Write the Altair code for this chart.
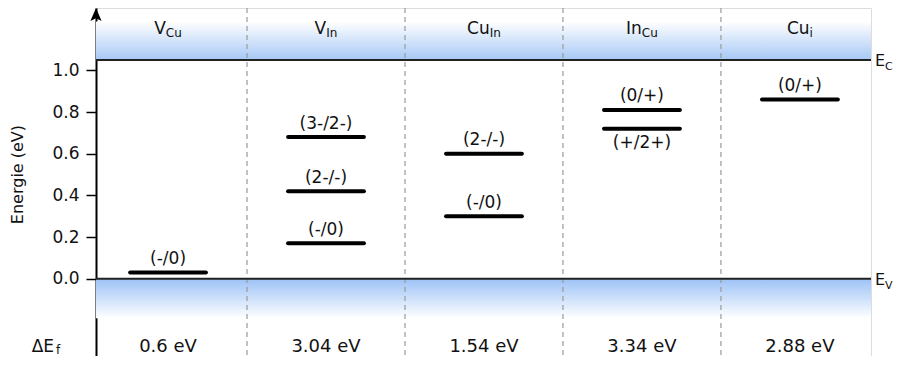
import altair as alt
import pandas as pd

# ---------------- data ----------------
defect_main = ["V", "V", "Cu", "In", "Cu"]          # defect symbol
defect_sub = ["Cu", "In", "In", "Cu", "i"]          # subscript (site)
formation_energy = [0.6, 3.04, 1.54, 3.34, 2.88]    # ΔE_f in eV

level_column = [0, 1, 1, 1, 2, 2, 3, 3, 4]
level_energy = [0.03, 0.68, 0.42, 0.17, 0.60, 0.30, 0.81, 0.72, 0.86]
level_label = ["(-/0)", "(3-/2-)", "(2-/-)", "(-/0)", "(2-/-)", "(-/0)",
               "(0/+)", "(+/2+)", "(0/+)"]
level_label_side = ["above", "above", "above", "above", "above", "above",
                    "above", "below", "above"]

E_C = 1.05   # conduction band edge (eV)
E_V = 0.0    # valence band edge (eV)
tick_values = [0.0, 0.2, 0.4, 0.6, 0.8, 1.0]

# ---------------- layout / styling ----------------
FONT = "DejaVu Sans"
X_MIN, X_MAX = -0.456, 4.45
Y_MIN, Y_MAX = -0.3711, 1.2996
PX_PER_COL = 158.0
W = int(round((X_MAX - X_MIN) * PX_PER_COL))
H = 348
HALF = 0.24
BAND_TOP = 1.235
BAND_BOTTOM = -0.19
HEADER_Y = 1.177
ROW_Y = -0.354
ARROW_Y = 1.266
BLUE = "#a6c8f5"

# approximate DejaVu Sans advance widths (em) for centring split labels
CW = {"V": .684, "C": .698, "u": .634, "I": .295, "n": .634, "i": .278,
      "E": .632, "Δ": .684, "f": .352}


def tw(s, size):
    return sum(CW.get(c, .6) for c in s) * size


MAIN_SIZE, SUB_SIZE = 17, 12

xs = alt.Scale(domain=[X_MIN, X_MAX], nice=False, zero=False)
ys = alt.Scale(domain=[Y_MIN, Y_MAX], nice=False, zero=False)
yaxis = alt.Axis(values=tick_values, format=".1f", title=None, grid=False,
                 labelFont=FONT, labelFontSize=17, labelColor="#111",
                 labelPadding=7, tickSize=10, tickWidth=1.5, tickColor="black",
                 domainColor="black", domainWidth=2)


def X(f):
    return alt.X(f, type="quantitative", scale=xs, axis=None)


def X2(f):
    return alt.X2(f)


def Y(f):
    return alt.Y(f, type="quantitative", scale=ys, axis=yaxis)


cols = list(range(len(defect_main)))

# bands
top_band = pd.DataFrame({"x": [X_MIN], "x2": [X_MAX], "y": [E_C], "y2": [BAND_TOP]})
bot_band = pd.DataFrame({"x": [X_MIN], "x2": [X_MAX], "y": [BAND_BOTTOM], "y2": [E_V]})

grad_top = alt.Gradient(gradient="linear",
                        stops=[alt.GradientStop(color="white", offset=0),
                               alt.GradientStop(color=BLUE, offset=1)],
                        x1=0, x2=0, y1=0, y2=1)
grad_bot = alt.Gradient(gradient="linear",
                        stops=[alt.GradientStop(color="#9cc2f6", offset=0),
                               alt.GradientStop(color="white", offset=1)],
                        x1=0, x2=0, y1=0, y2=1)

l_top = alt.Chart(top_band).mark_rect(color=grad_top).encode(
    x=X("x"), x2=X2("x2"), y=Y("y"), y2=alt.Y2("y2"))
l_bot = alt.Chart(bot_band).mark_rect(color=grad_bot).encode(
    x=X("x"), x2=X2("x2"), y=Y("y"), y2=alt.Y2("y2"))

# separators
sep = pd.DataFrame({"x": [c + 0.5 for c in cols[:-1]]})
l_sep = alt.Chart(sep).mark_rule(color="#9a9a9a", strokeWidth=1.2,
                                 strokeDash=[5, 4]).encode(x=X("x"))

# band edges
edges = pd.DataFrame({"x": [X_MIN, X_MIN], "x2": [X_MAX, X_MAX], "y": [E_C, E_V],
                      "main": ["E", "E"], "sub": ["C", "V"]})
l_edges = alt.Chart(edges).mark_rule(color="#222", strokeWidth=2).encode(
    x=X("x"), x2=X2("x2"), y=Y("y"))
l_edge_main = alt.Chart(edges).mark_text(
    font=FONT, fontSize=16, align="left", baseline="alphabetic", dx=4, dy=6,
    color="#111").encode(x=X("x2"), y=Y("y"), text="main:N")
l_edge_sub = alt.Chart(edges).mark_text(
    font=FONT, fontSize=11, align="left", baseline="alphabetic",
    dx=4 + tw("E", 16), dy=10, color="#111").encode(x=X("x2"), y=Y("y"), text="sub:N")

# levels
levels = pd.DataFrame({"col": level_column, "energy": level_energy,
                       "label": level_label, "side": level_label_side})
levels["x"] = levels["col"] - HALF
levels["x2"] = levels["col"] + HALF
l_levels = alt.Chart(levels).mark_rule(color="black", strokeWidth=4,
                                       strokeCap="round").encode(
    x=X("x"), x2=X2("x2"), y=Y("energy"))
l_lab_above = alt.Chart(levels).transform_filter(alt.datum.side == "above").mark_text(
    font=FONT, fontSize=17, baseline="middle", dy=-13.5, color="#111").encode(
    x=X("col"), y=Y("energy"), text="label:N")
l_lab_below = alt.Chart(levels).transform_filter(alt.datum.side == "below").mark_text(
    font=FONT, fontSize=17, baseline="middle", dy=14, color="#111").encode(
    x=X("col"), y=Y("energy"), text="label:N")

# column headers (symbol + subscript)
hdr = pd.DataFrame({"col": cols, "main": defect_main, "sub": defect_sub})
hdr["xj"] = [c + (tw(m, MAIN_SIZE) - tw(s, SUB_SIZE)) / 2 / PX_PER_COL
             for c, m, s in zip(cols, defect_main, defect_sub)]
hdr["y"] = HEADER_Y
l_hdr_main = alt.Chart(hdr).mark_text(
    font=FONT, fontSize=MAIN_SIZE, align="right", baseline="alphabetic",
    color="#111").encode(x=X("xj"), y=Y("y"), text="main:N")
l_hdr_sub = alt.Chart(hdr).mark_text(
    font=FONT, fontSize=SUB_SIZE, align="left", baseline="alphabetic", dy=3,
    color="#111").encode(x=X("xj"), y=Y("y"), text="sub:N")

# formation energies row
fe = pd.DataFrame({"col": cols, "val": formation_energy})
fe["label"] = [f"{v:g} eV" for v in formation_energy]
fe["y"] = ROW_Y
l_fe = alt.Chart(fe).mark_text(
    font=FONT, fontSize=18, baseline="alphabetic", color="#111").encode(
    x=X("col"), y=Y("y"), text="label:N")

row_lab = pd.DataFrame({"x": [X_MIN - 42 / PX_PER_COL], "y": [ROW_Y + 0.004],
                        "main": ["ΔE"], "sub": ["f"]})
l_row_main = alt.Chart(row_lab).mark_text(
    font=FONT, fontSize=17, align="right", baseline="alphabetic",
    color="#111").encode(x=X("x"), y=Y("y"), text="main:N")
l_row_sub = alt.Chart(row_lab).mark_text(
    font=FONT, fontSize=12, align="left", baseline="alphabetic", dx=2, dy=2,
    color="#111").encode(x=X("x"), y=Y("y"), text="sub:N")

# y-axis title and arrow
ttl = pd.DataFrame({"x": [X_MIN - 78 / PX_PER_COL], "y": [0.5], "t": ["Energie (eV)"]})
l_title = alt.Chart(ttl).mark_text(
    font=FONT, fontSize=16, angle=270, align="center", baseline="middle",
    color="#111").encode(x=X("x"), y=Y("y"), text="t:N")

arrow = pd.DataFrame({"x": [X_MIN], "y": [ARROW_Y]})
l_arrow = alt.Chart(arrow).mark_point(
    shape="M0,-1 L0.8,0.85 L0,0.45 L-0.8,0.85 Z", size=196, filled=True,
    color="black", opacity=1).encode(x=X("x"), y=Y("y"))

chart = alt.layer(
    l_top, l_bot, l_sep, l_edges, l_levels, l_lab_above, l_lab_below,
    l_hdr_main, l_hdr_sub, l_fe, l_row_main, l_row_sub, l_title,
    l_edge_main, l_edge_sub, l_arrow
).properties(
    width=W, height=H,
    autosize=alt.AutoSizeParams(type="none"),
    padding={"left": 88, "top": 0, "right": 890 - 88 - W, "bottom": 0},
).configure_view(stroke=None).configure(background="white")

chart.save("out.html", embed_options={"renderer": "svg", "actions": False})
